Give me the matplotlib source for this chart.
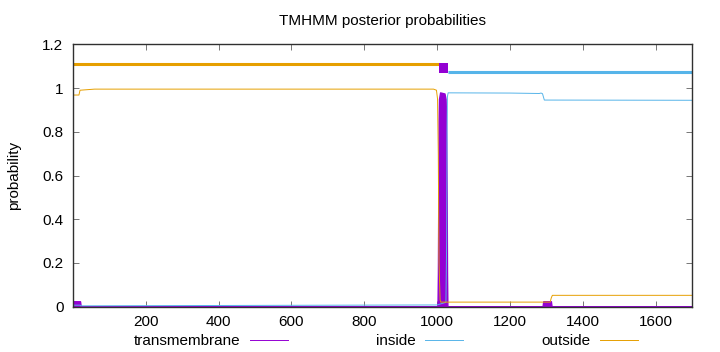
import matplotlib
matplotlib.use("Agg")
import matplotlib.pyplot as plt
from matplotlib.lines import Line2D

plt.rcParams['font.family'] = ['Liberation Sans', 'DejaVu Sans']
plt.rcParams['font.size'] = 11

# ---- data ----
title = "TMHMM posterior probabilities"
ylabel = "probability"
series_names = ["transmembrane", "inside", "outside"]
xticks = [200, 400, 600, 800, 1000, 1200, 1400, 1600]
yticks = [0, 0.2, 0.4, 0.6, 0.8, 1.0, 1.2]
ytick_labels = ["0", "0.2", "0.4", "0.6", "0.8", "1", "1.2"]
seq_len = 1700

# transmembrane posterior (breakpoints)
tm_x = [1, 2, 20, 22, 1000, 1001, 1002, 1003, 1004, 1005, 1008, 1020, 1023, 1024, 1025, 1026, 1027, 1028, 1289, 1291, 1312, 1314, 1700]
tm_y = [0.0, 0.025, 0.025, 0.0, 0.0, 0.02, 0.15, 0.5, 0.85, 0.95, 0.98, 0.975, 0.95, 0.9, 0.75, 0.5, 0.15, 0.0, 0.0, 0.025, 0.025, 0.0, 0.0]

# inside posterior
in_x = [1, 20, 22, 1000, 1024, 1026, 1027, 1028, 1030, 1200, 1280, 1285, 1289, 1294, 1700]
in_y = [0.007, 0.007, 0.004, 0.008, 0.02, 0.3, 0.8, 0.96, 0.978, 0.977, 0.975, 0.977, 0.974, 0.945, 0.944]

# outside posterior
out_x = [1, 17, 20, 60, 990, 998, 1001, 1003, 1005, 1008, 1010, 1310, 1313, 1316, 1700]
out_y = [0.968, 0.968, 0.99, 0.995, 0.995, 0.99, 0.95, 0.7, 0.2, 0.03, 0.021, 0.021, 0.04, 0.052, 0.052]

# predicted topology bars across the top
topo_kind = ["outside", "transmembrane", "inside"]
topo_start = [1, 1006, 1029]
topo_end = [1006, 1029, 1700]

colors = {"transmembrane": "#9400d3", "inside": "#56b4e9", "outside": "#e69f00"}
bar_level = {"outside": 1.11, "inside": 1.072}
tm_box = (1.069, 1.114)

# ---- figure ----
fig = plt.figure(figsize=(7.2, 3.52), dpi=100)
ax = fig.add_axes([73.1 / 720, 1 - 306.7 / 352, (692.3 - 73.1) / 720, (306.7 - 44.3) / 352])

ax.fill_between(tm_x, tm_y, color=colors["transmembrane"], linewidth=1.0,
                edgecolor=colors["transmembrane"], zorder=2)
ax.plot(in_x, in_y, color=colors["inside"], lw=0.7, zorder=3)
ax.plot(out_x, out_y, color=colors["outside"], lw=0.7, zorder=3)

for kind, s, e in zip(topo_kind, topo_start, topo_end):
    if kind == "transmembrane":
        ax.bar(s, tm_box[1] - tm_box[0], width=e - s, bottom=tm_box[0], align='edge',
               color=colors[kind], linewidth=0, zorder=4)
    else:
        ax.hlines(bar_level[kind], s, e, color=colors[kind], lw=2.2, zorder=4)

ax.set_xlim(1, seq_len)
ax.set_ylim(0, 1.2)
ax.set_xticks(xticks)
ax.set_xticklabels([str(t) for t in xticks])
ax.set_yticks(yticks)
ax.set_yticklabels(ytick_labels)
ax.tick_params(direction='in', length=4, width=0.6, color='#606060',
               top=True, right=True, labelsize=11)
ax.tick_params(axis='y', pad=7)
ax.tick_params(axis='x', pad=6)
for sp in ax.spines.values():
    sp.set_linewidth(1.0)
    sp.set_color('#303030')
    sp.set_zorder(5)

ax.set_title(title, fontsize=11, pad=14)
ax.set_ylabel(ylabel, fontsize=11)
ax.yaxis.set_label_coords(-0.084, 0.5)

# legend: text then sample line, gnuplot-like, three entries in a row
line_end_px = [288, 463, 638]
for name, xe in zip(series_names, line_end_px):
    h = Line2D([], [], color=colors[name], lw=0.7)
    fig.legend([h], [name], loc='center right', bbox_to_anchor=(xe / 720, 1 - 341 / 352),
               frameon=False, markerfirst=False, handlelength=2.5, handletextpad=0.6,
               borderpad=0, borderaxespad=0, fontsize=11)

fig.savefig("out.png", dpi=100)
